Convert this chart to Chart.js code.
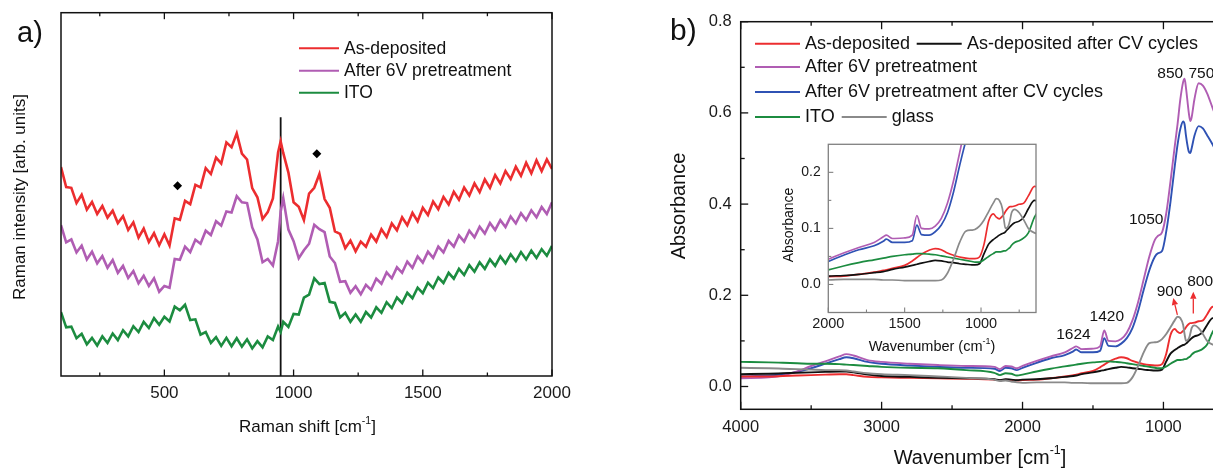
<!DOCTYPE html>
<html><head><meta charset="utf-8">
<script src="https://cdn.jsdelivr.net/npm/chart.js@4.4.1/dist/chart.umd.min.js"></script>
<style>
html,body{margin:0;padding:0;width:1213px;height:469px;overflow:hidden;background:#fff;}
#wrap{position:relative;width:1213px;height:469px;overflow:hidden;background:#fff;}
canvas{position:absolute;}
</style></head><body>
<div id="wrap">
<canvas id="ca" width="600" height="469" style="left:0;top:0;width:600px;height:469px"></canvas>
<canvas id="cb" width="640" height="469" style="left:640px;top:0;width:640px;height:469px"></canvas>
<canvas id="ci" width="300" height="270" style="left:760px;top:100px;width:300px;height:270px"></canvas>
</div>
<script>
// ---------------- Panel a: Raman data ----------------
const ramanX = [100,120,140,160,180,200,220,240,260,280,
 300,320,340,360,380,400,420,440,460,480,
 500,520,540,560,580,600,620,640,660,680,
 700,720,740,760,780,800,820,840,860,880,
 900,920,940,950,960,980,1000,1020,1040,1060,
 1080,1100,1120,1140,1160,1180,1200,1220,1240,1260,
 1280,1300,1320,1340,1360,1380,1400,1420,1440,1460,
 1480,1500,1520,1540,1560,1580,1600,1620,1640,1660,
 1680,1700,1720,1740,1760,1780,1800,1820,1840,1860,
 1880,1900,1920,1940,1960,1980,2000];
const ramanAsDeposited = [57.5,52.0,51.8,47.6,49.9,45.8,47.9,44.6,46.8,43.6,
 45.5,42.1,44.0,40.2,42.3,38.1,40.6,36.9,39.3,36.0,
 39.0,35.9,43.4,43.0,48.2,47.3,52.6,51.9,57.2,55.6,
 60.1,58.5,64.3,63.0,66.8,61.2,59.6,51.7,49.2,43.2,
 45.1,48.9,61.5,64.6,61.4,56.0,47.8,46.6,42.9,50.2,
 51.8,55.6,48.7,46.3,39.8,39.1,35.2,37.3,34.3,37.0,
 35.6,38.9,37.0,40.4,38.3,42.0,40.1,43.7,41.5,44.9,
 42.6,46.3,44.3,48.0,45.9,49.3,47.2,50.7,48.5,51.9,
 49.7,53.0,50.6,54.1,51.8,55.3,53.0,56.4,54.2,57.6,
 55.1,58.7,55.8,59.4,56.4,59.6,57.0];
const ramanAfter6V = [41.5,36.8,37.6,34.0,35.9,32.1,34.2,31.0,33.0,29.8,
 31.9,28.4,30.3,27.0,28.9,25.5,27.6,24.8,26.9,23.2,
 24.8,24.3,32.2,32.0,35.6,34.1,37.5,36.4,40.0,38.8,
 42.6,41.4,45.3,45.0,49.5,47.8,47.6,40.9,37.6,31.3,
 32.2,30.4,37.1,45.2,49.0,40.3,37.1,32.4,34.6,36.4,
 41.6,40.4,39.6,32.9,31.1,25.9,26.1,22.9,24.7,22.5,
 25.1,23.7,26.8,25.4,28.5,26.9,29.9,28.4,31.5,29.8,
 32.9,31.2,34.2,32.5,35.6,34.0,37.2,35.6,38.7,37.0,
 40.0,38.2,41.1,39.2,42.1,40.2,42.9,41.0,43.9,42.0,
 44.8,42.9,45.6,43.7,46.5,44.6,47.8];
const ramanITO = [17.6,13.4,13.6,10.4,11.6,8.7,10.5,8.4,10.9,9.1,
 11.7,9.9,12.6,10.9,13.7,12.1,14.9,13.2,15.9,14.1,
 16.3,15.0,19.1,18.1,19.6,15.4,15.6,11.4,12.1,9.1,
 10.7,8.3,10.5,8.2,10.4,8.1,10.1,7.6,9.6,7.9,
 10.9,9.9,13.6,12.1,14.9,13.5,17.1,16.9,21.6,22.4,
 26.9,25.3,25.6,20.4,20.1,16.1,17.4,14.9,16.9,14.9,
 17.6,16.1,18.9,17.4,20.3,18.7,21.6,20.1,22.9,21.4,
 24.3,22.8,25.7,24.2,27.1,25.6,28.4,26.8,29.5,27.8,
 30.5,28.7,31.3,29.5,32.1,30.3,32.9,31.0,33.5,31.6,
 34.1,32.1,34.5,32.5,34.9,33.1,35.8];
const ramanMarkerX = [551, 1090];
const ramanMarkerY = [52.4, 61.2];
const ramanRefLineX = [950, 950];
const ramanRefLineY = [0, 71.2];
const ramanTicks = [500, 1000, 1500, 2000];
const ramanMinorTicks = [250, 750, 1250, 1750];
const ramanSeriesNames = ['As-deposited', 'After 6V pretreatment', 'ITO'];

// ---------------- Panel b: FTIR data ----------------
const ftirX = [4000,3800,3700,3600,3500,3400,3300,3250,3200,3100,
 3000,2800,2600,2400,2200,2160,2120,2080,2040,2000,
 1900,1800,1700,1640,1620,1580,1500,1450,1420,1390,
 1340,1300,1260,1220,1180,1140,1100,1060,1040,1010,
 980,950,920,900,880,860,850,840,820,810,
 800,780,750,720,690,650,600];
const ftirAsDeposited = [0.022,0.022,0.023,0.024,0.025,0.026,0.027,0.027,0.025,0.021,
 0.020,0.019,0.018,0.017,0.015,0.014,0.015,0.014,0.013,0.014,
 0.015,0.018,0.022,0.025,0.026,0.029,0.034,0.042,0.048,0.054,
 0.061,0.064,0.062,0.056,0.052,0.049,0.047,0.046,0.046,0.049,
 0.072,0.113,0.126,0.120,0.117,0.122,0.125,0.130,0.137,0.139,
 0.139,0.140,0.143,0.145,0.158,0.175,0.170];
const ftirAsDepositedCV = [0.027,0.028,0.029,0.030,0.031,0.032,0.033,0.033,0.031,0.026,
 0.023,0.021,0.019,0.018,0.016,0.014,0.016,0.015,0.014,0.015,
 0.016,0.018,0.021,0.023,0.024,0.027,0.031,0.034,0.036,0.038,
 0.041,0.043,0.042,0.040,0.039,0.037,0.036,0.035,0.035,0.037,
 0.055,0.072,0.080,0.084,0.088,0.091,0.092,0.094,0.100,0.103,
 0.106,0.110,0.113,0.120,0.135,0.150,0.145];
const ftirAfter6V = [0.018,0.020,0.024,0.033,0.045,0.055,0.066,0.071,0.068,0.058,
 0.054,0.050,0.047,0.045,0.043,0.038,0.045,0.044,0.040,0.045,
 0.056,0.066,0.075,0.085,0.088,0.082,0.083,0.088,0.123,0.100,
 0.099,0.104,0.118,0.145,0.185,0.235,0.285,0.322,0.330,0.338,
 0.380,0.450,0.526,0.575,0.630,0.668,0.675,0.655,0.600,0.582,
 0.590,0.630,0.665,0.660,0.643,0.610,0.570];
const ftirAfter6VCV = [0.022,0.024,0.027,0.032,0.040,0.050,0.060,0.064,0.062,0.054,
 0.050,0.046,0.043,0.041,0.039,0.034,0.041,0.040,0.036,0.041,
 0.052,0.062,0.069,0.077,0.081,0.075,0.075,0.078,0.106,0.089,
 0.088,0.094,0.106,0.128,0.165,0.212,0.255,0.285,0.292,0.297,
 0.340,0.405,0.482,0.530,0.565,0.581,0.575,0.550,0.515,0.512,
 0.522,0.550,0.571,0.566,0.551,0.530,0.500];
const ftirITO = [0.054,0.053,0.052,0.051,0.050,0.050,0.049,0.048,0.047,0.045,
 0.043,0.041,0.040,0.036,0.030,0.025,0.029,0.028,0.024,0.026,
 0.033,0.039,0.044,0.047,0.048,0.050,0.053,0.054,0.055,0.055,
 0.054,0.053,0.051,0.049,0.047,0.045,0.043,0.041,0.040,0.040,
 0.044,0.050,0.055,0.058,0.058,0.059,0.060,0.060,0.064,0.066,
 0.070,0.075,0.078,0.083,0.092,0.120,0.140];
const ftirGlass = [0.041,0.040,0.039,0.038,0.037,0.036,0.036,0.035,0.033,0.029,
 0.027,0.025,0.022,0.019,0.015,0.012,0.013,0.011,0.009,0.008,
 0.009,0.009,0.009,0.008,0.008,0.008,0.007,0.007,0.007,0.007,
 0.007,0.007,0.008,0.020,0.045,0.075,0.095,0.097,0.098,0.104,
 0.115,0.130,0.145,0.153,0.150,0.135,0.115,0.100,0.105,0.115,
 0.128,0.134,0.128,0.115,0.100,0.092,0.090];
const ftirSeriesNames = ['As-deposited','As-deposited after CV cycles','After 6V pretreatment','After 6V pretreatment after CV cycles','ITO','glass'];
const ftirTicksX = [4000, 3000, 2000, 1000];
const ftirMinorX = [3500, 2500, 1500];
const ftirTicksY = [0, 0.2, 0.4, 0.6, 0.8];
const ftirMinorY = [0.1, 0.3, 0.5, 0.7];
const insetTicksX = [2000, 1500, 1000];
const insetMinorX = [1750, 1250, 750];
const insetTicksY = [0, 0.1, 0.2];
const insetMinorY = [0.05, 0.15];
const peakText = ['850','750','1050','900','800','1420','1624'];
const peakTextX = [952, 731, 1122, 956, 740, 1402, 1639];
const peakTextY = [0.687, 0.687, 0.365, 0.208, 0.230, 0.153, 0.113];
const arrowFromX = [901, 788];
const arrowFromY = [0.157, 0.160];
const arrowToX = [930, 788];
const arrowToY = [0.194, 0.208];

// ---------------- styling ----------------
const FONT = '"Liberation Sans", Arial, Helvetica, sans-serif';
const C = {red:'#ec2d2f', purple:'#b05db3', green:'#1c8c40', blue:'#2f52b4', black:'#111111', gray:'#8a8a8a'};

function pts(xs, ys){ return xs.map((x,i)=>({x:x, y:ys[i]})); }

function drawRich(ctx, parts, x, y, size, align, rot, color){
  ctx.save();
  ctx.translate(x, y);
  if (rot) ctx.rotate(rot);
  ctx.fillStyle = color || '#111';
  ctx.textBaseline = 'middle';
  ctx.textAlign = 'left';
  let w = 0;
  const segs = parts.map(p => { const s = p.sup ? size*0.62 : size; ctx.font = s + 'px ' + FONT; const m = ctx.measureText(p.t).width; w += m; return {p:p, s:s, m:m}; });
  let cx = align === 'center' ? -w/2 : (align === 'right' ? -w : 0);
  segs.forEach(g => { ctx.font = g.s + 'px ' + FONT; ctx.fillText(g.p.t, cx, g.p.sup ? -size*0.36 : 0); cx += g.m; });
  ctx.restore();
}

const decor = {
  id: 'decor',
  afterDraw(chart, args, o){
    const ctx = chart.ctx, ca = chart.chartArea, xs = chart.scales.x, ys = chart.scales.y;
    const ox = o.offX || 0, oy = o.offY || 0;
    ctx.save();
    ctx.lineCap = 'butt';
    ctx.strokeStyle = o.frameColor; ctx.lineWidth = o.tickWidth || 1.2;
    const tx = (vals, len, sides) => vals.forEach(v => { const px = xs.getPixelForValue(v);
      sides.forEach(sd => { const y0 = sd === 'bottom' ? ca.bottom : ca.top; const d = sd === 'bottom' ? -1 : 1;
        ctx.beginPath(); ctx.moveTo(px, y0); ctx.lineTo(px, y0 + d*len); ctx.stroke(); }); });
    const ty = (vals, len) => vals.forEach(v => { const py = ys.getPixelForValue(v);
      ctx.beginPath(); ctx.moveTo(ca.left, py); ctx.lineTo(ca.left + len, py); ctx.stroke(); });
    if (o.xMajor) tx(o.xMajor, o.majorLen, o.xSides);
    if (o.xMinor) tx(o.xMinor, o.minorLen, o.xSides);
    if (o.yMajor) ty(o.yMajor, o.majorLen);
    if (o.yMinor) ty(o.yMinor, o.minorLen);
    ctx.lineWidth = o.frameWidth;
    ctx.strokeRect(ca.left, ca.top, ca.right - ca.left, ca.bottom - ca.top);
    (o.legend || []).forEach(L => {
      ctx.strokeStyle = L.color; ctx.lineWidth = 2;
      ctx.beginPath(); ctx.moveTo(L.x1 - ox, L.y - oy); ctx.lineTo(L.x2 - ox, L.y - oy); ctx.stroke();
      drawRich(ctx, [{t:L.text}], L.tx - ox, L.y - oy + 0.5, o.legendSize, 'left', 0, '#111');
    });
    (o.texts || []).forEach(T => drawRich(ctx, T.parts, T.x - ox, T.y - oy, T.size, T.align || 'center', T.rot || 0, '#111'));
    (o.notes || []).forEach(n => drawRich(ctx, [{t:n.t}], xs.getPixelForValue(n.x), ys.getPixelForValue(n.y), o.noteSize, 'center', 0, '#111'));
    (o.arrows || []).forEach(a => {
      const x0 = xs.getPixelForValue(a.x0), y0 = ys.getPixelForValue(a.y0), x1 = xs.getPixelForValue(a.x1), y1 = ys.getPixelForValue(a.y1);
      ctx.strokeStyle = C.red; ctx.fillStyle = C.red; ctx.lineWidth = 1.3;
      const ang = Math.atan2(y1 - y0, x1 - x0), h = 7, w = 3.2;
      const bx = x1 - h*Math.cos(ang), by = y1 - h*Math.sin(ang);
      ctx.beginPath(); ctx.moveTo(x0, y0); ctx.lineTo(bx, by); ctx.stroke();
      ctx.beginPath(); ctx.moveTo(x1, y1);
      ctx.lineTo(bx + w*Math.sin(ang), by - w*Math.cos(ang));
      ctx.lineTo(bx - w*Math.sin(ang), by + w*Math.cos(ang));
      ctx.closePath(); ctx.fill();
    });
    ctx.restore();
  }
};
Chart.register(decor);

function fixedTicks(arr){ return s => { s.ticks = arr.map(v => ({value: v})); }; }
const plain = v => String(v);
const fmt1 = v => Number(v).toFixed(1);
const baseOpts = { responsive:false, animation:false, events:[], devicePixelRatio:1 };

// ---------------- Chart a ----------------
const lineA = (label, ys, color) => ({ label: label, data: pts(ramanX, ys), borderColor: color, borderWidth: 2.6, pointRadius: 0, tension: 0, fill: false, borderJoinStyle:'miter' });
new Chart(document.getElementById('ca'), {
  type: 'line',
  data: { datasets: [
    lineA(ramanSeriesNames[2], ramanITO, C.green),
    lineA(ramanSeriesNames[1], ramanAfter6V, C.purple),
    lineA(ramanSeriesNames[0], ramanAsDeposited, C.red),
    { label:'ref', data: pts(ramanRefLineX, ramanRefLineY), borderColor:'#111', borderWidth:1.8, pointRadius:0 },
    { label:'marker', data: pts(ramanMarkerX, ramanMarkerY), showLine:false, pointStyle:'rectRot', pointRadius:4.5, backgroundColor:'#000', borderColor:'#000', borderWidth:0 }
  ]},
  options: Object.assign({}, baseOpts, {
    layout: { padding: { left:0, top:12.7, right:48, bottom:0 } },
    plugins: { legend:{display:false}, tooltip:{enabled:false},
      decor: { frameColor:'#111', frameWidth:1.5, tickWidth:1.3, majorLen:6.5, minorLen:3.5,
        xMajor: ramanTicks, xMinor: ramanMinorTicks, xSides:['bottom','top'],
        legendSize: 17.5,
        legend: [
          {color:C.red, x1:299, x2:339, y:48.3, tx:344, text:ramanSeriesNames[0]},
          {color:C.purple, x1:299, x2:339, y:70.7, tx:344, text:ramanSeriesNames[1]},
          {color:C.green, x1:299, x2:339, y:92.7, tx:344, text:ramanSeriesNames[2]}
        ],
        texts: [
          {parts:[{t:'a)'}], x:17, y:33.5, size:29, align:'left'},
          {parts:[{t:'Raman intensity [arb. units]'}], x:20.5, y:197, size:17, rot:-Math.PI/2},
          {parts:[{t:'Raman shift [cm'},{t:'-1',sup:true},{t:']'}], x:307.5, y:427, size:17}
        ] } },
    scales: {
      x: { type:'linear', min:100, max:2000, afterBuildTicks: fixedTicks(ramanTicks), afterFit: s => { s.height = 93; },
           grid:{display:false, drawTicks:false}, border:{display:false},
           ticks:{ font:{family:FONT, size:17}, color:'#1a1a1a', padding:7.5, maxRotation:0, autoSkip:false, callback: plain } },
      y: { type:'linear', min:0, max:100, afterFit: s => { s.width = 61; }, ticks:{display:false}, grid:{display:false, drawTicks:false}, border:{display:false} }
    }
  })
});

// ---------------- Chart b ----------------
const lineB = (label, ys, color, w) => ({ label: label, data: pts(ftirX, ys), borderColor: color, borderWidth: w, pointRadius: 0, cubicInterpolationMode:'monotone', fill:false });
function ftirSets(w){ return [
  lineB(ftirSeriesNames[5], ftirGlass, C.gray, w),
  lineB(ftirSeriesNames[4], ftirITO, C.green, w),
  lineB(ftirSeriesNames[1], ftirAsDepositedCV, C.black, w),
  lineB(ftirSeriesNames[0], ftirAsDeposited, C.red, w),
  lineB(ftirSeriesNames[2], ftirAfter6V, C.purple, w),
  lineB(ftirSeriesNames[3], ftirAfter6VCV, C.blue, w)
]; }

new Chart(document.getElementById('cb'), {
  type: 'line',
  data: { datasets: ftirSets(1.9) },
  options: Object.assign({}, baseOpts, {
    layout: { padding: { left:0, top:21.7, right:60.2, bottom:0 } },
    plugins: { legend:{display:false}, tooltip:{enabled:false},
      decor: { offX:640, offY:0, frameColor:'#111', frameWidth:1.5, tickWidth:1.3, majorLen:7.5, minorLen:4,
        xMajor: ftirTicksX, xMinor: ftirMinorX, xSides:['bottom','top'], yMajor: ftirTicksY, yMinor: ftirMinorY,
        legendSize: 18,
        legend: [
          {color:C.red, x1:755, x2:800, y:43.7, tx:805, text:ftirSeriesNames[0]},
          {color:C.black, x1:916.7, x2:961.7, y:43.7, tx:967, text:ftirSeriesNames[1]},
          {color:C.purple, x1:755, x2:800, y:67, tx:805, text:ftirSeriesNames[2]},
          {color:C.blue, x1:755, x2:800, y:92, tx:805, text:ftirSeriesNames[3]},
          {color:C.green, x1:755, x2:800, y:117, tx:805, text:ftirSeriesNames[4]},
          {color:C.gray, x1:841.7, x2:886.7, y:117, tx:891.7, text:ftirSeriesNames[5]}
        ],
        texts: [
          {parts:[{t:'b)'}], x:670, y:31.6, size:30, align:'left'},
          {parts:[{t:'Absorbance'}], x:679, y:206, size:20, rot:-Math.PI/2},
          {parts:[{t:'Wavenumber [cm'},{t:'-1',sup:true},{t:']'}], x:980, y:458, size:20}
        ],
        noteSize: 15.5,
        notes: peakText.map((t,i) => ({t:t, x:peakTextX[i], y:peakTextY[i]})),
        arrows: arrowFromX.map((x,i) => ({x0:x, y0:arrowFromY[i], x1:arrowToX[i], y1:arrowToY[i]}))
      } },
    scales: {
      x: { type:'linear', reverse:true, min:600, max:4000, afterBuildTicks: fixedTicks(ftirTicksX), afterFit: s => { s.height = 59.7; },
           grid:{display:false, drawTicks:false}, border:{display:false},
           ticks:{ font:{family:FONT, size:16.5}, color:'#1a1a1a', padding:8.5, maxRotation:0, autoSkip:false, callback: plain } },
      y: { type:'linear', min:-0.05, max:0.8, afterBuildTicks: fixedTicks(ftirTicksY), afterFit: s => { s.width = 100.7; },
           grid:{display:false, drawTicks:false}, border:{display:false},
           ticks:{ font:{family:FONT, size:16.5}, color:'#1a1a1a', padding:9, callback: fmt1 } }
    }
  })
});

// ---------------- Inset ----------------
new Chart(document.getElementById('ci'), {
  type: 'line',
  data: { datasets: ftirSets(1.7) },
  options: Object.assign({}, baseOpts, {
    layout: { padding: { left:0, top:44.3, right:24, bottom:0 } },
    plugins: { legend:{display:false}, tooltip:{enabled:false},
      decor: { offX:760, offY:100, frameColor:'#808080', frameWidth:1.3, tickWidth:1.1, majorLen:5, minorLen:3,
        xMajor: insetTicksX, xMinor: insetMinorX, xSides:['bottom'], yMajor: insetTicksY, yMinor: insetMinorY,
        texts: [
          {parts:[{t:'Absorbance'}], x:789, y:225, size:14, rot:-Math.PI/2},
          {parts:[{t:'Wavenumber (cm'},{t:'-1',sup:true},{t:')'}], x:932, y:346.7, size:14.5}
        ] } },
    scales: {
      x: { type:'linear', reverse:true, min:640, max:2000, afterBuildTicks: fixedTicks(insetTicksX), afterFit: s => { s.height = 57.5; },
           grid:{display:false, drawTicks:false}, border:{display:false},
           ticks:{ font:{family:FONT, size:14.5}, color:'#1a1a1a', padding:3, maxRotation:0, autoSkip:false, callback: plain } },
      y: { type:'linear', min:-0.05, max:0.25, afterBuildTicks: fixedTicks(insetTicksY), afterFit: s => { s.width = 68.3; },
           grid:{display:false, drawTicks:false}, border:{display:false},
           ticks:{ font:{family:FONT, size:14}, color:'#1a1a1a', padding:7.5, callback: fmt1 } }
    }
  })
});
</script>
</body></html>
